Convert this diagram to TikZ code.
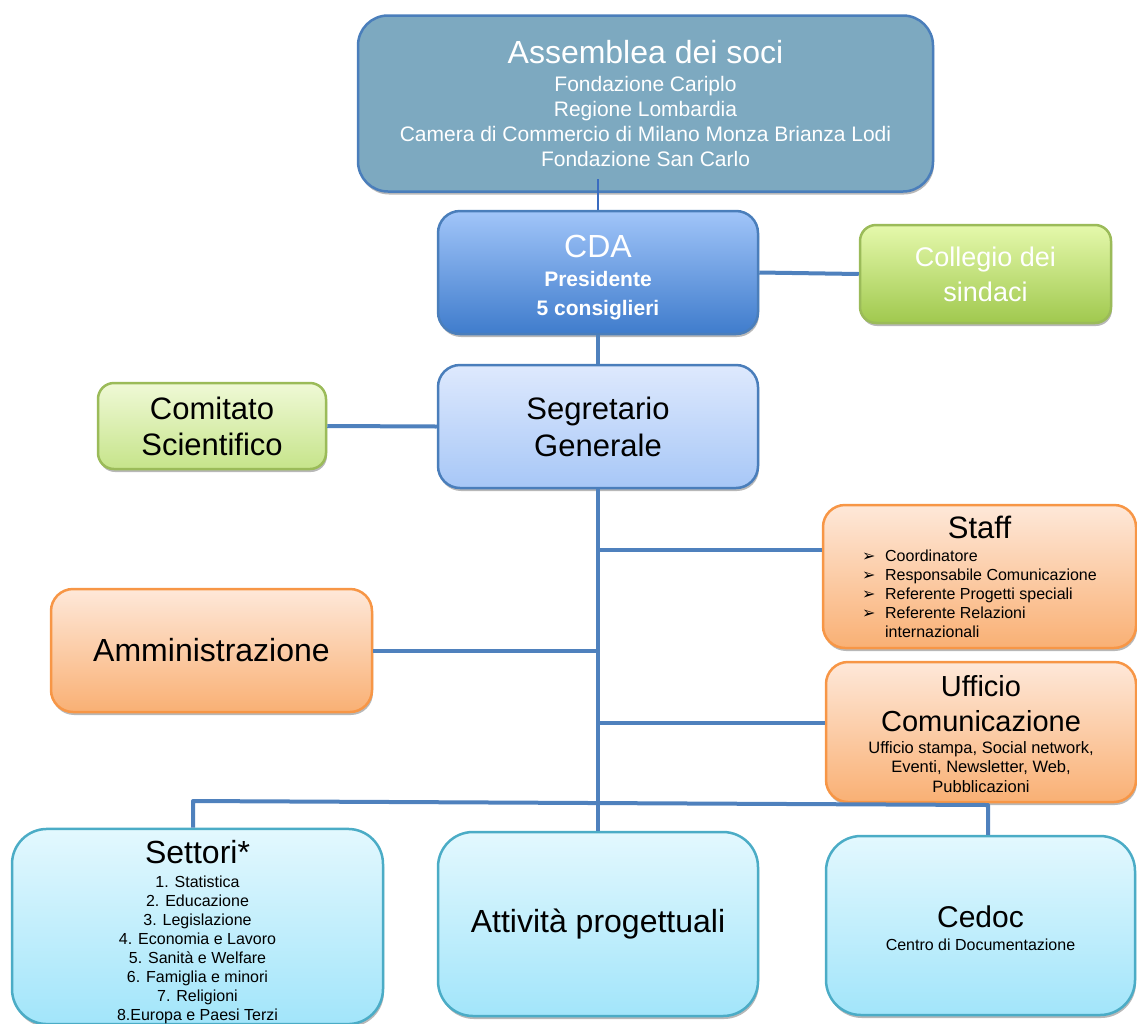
\documentclass[tikz,border=0pt]{standalone}
\usepackage{fontspec}
\setmainfont{Liberation Sans}
\newfontfamily\symfont{DejaVu Sans}
\usetikzlibrary{shadows}
\setlength{\lineskiplimit}{-1000pt}
\newcommand{\fsz}[2]{\fontsize{#1}{#2}\selectfont}
\definecolor{lineblue}{HTML}{4F81BD}
\definecolor{darkline}{HTML}{3A6CC0}
\definecolor{assemfill}{HTML}{7DA9C0}
\definecolor{bluedraw}{HTML}{4A7EBB}
\definecolor{cdatop}{HTML}{A1C5F9}
\definecolor{cdabot}{HTML}{3F7CCC}
\definecolor{segtop}{HTML}{DEE9FD}
\definecolor{segbot}{HTML}{A7C7F7}
\definecolor{grtop}{HTML}{E5F9AC}
\definecolor{grbot}{HTML}{A0C84E}
\definecolor{lgtop}{HTML}{EFF9D6}
\definecolor{lgbot}{HTML}{C6E48A}
\definecolor{grdraw}{HTML}{9BBB59}
\definecolor{ortop}{HTML}{FEE8D9}
\definecolor{orbot}{HTML}{F9B074}
\definecolor{ordraw}{HTML}{F79646}
\definecolor{cytop}{HTML}{E3F8FE}
\definecolor{cybot}{HTML}{A2E5FA}
\definecolor{cydraw}{HTML}{4BACC6}
\tikzset{
  box/.style={rounded corners=#1, line width=2.5pt, align=center, inner sep=0pt,
    drop shadow={shadow xshift=1pt, shadow yshift=-3pt, opacity=0.28, fill=black}},
  box/.default=20pt,
  assembox/.style={box=30pt, fill=assemfill, draw=bluedraw, text=white},
  cdabox/.style={box=22pt, top color=cdatop, bottom color=cdabot, draw=bluedraw, text=white},
  segbox/.style={box=22pt, top color=segtop, bottom color=segbot, draw=bluedraw, text=black},
  greenbox/.style={box=16pt, top color=grtop, bottom color=grbot, draw=grdraw, text=white},
  lgreenbox/.style={box=16pt, top color=lgtop, bottom color=lgbot, draw=grdraw, text=black},
  orangebox/.style={box=22pt, top color=ortop, bottom color=orbot, draw=ordraw, text=black},
  cyanbox/.style={box=35pt, top color=cytop, bottom color=cybot, draw=cydraw, text=black},
  link/.style={draw=lineblue, line width=4pt},
  thinlink/.style={draw=darkline, line width=2.5pt},
}
\newcommand{\bul}{\makebox[13pt][l]{\symfont\fsz{16}{19}➢}}
\newcommand{\bitem}[1]{\hbox{\bul\hspace{10pt}#1}}
\begin{document}
\begin{tikzpicture}[x=1pt,y=-1pt]
\useasboundingbox (0,0) rectangle (1137,1023);

\node[assembox, minimum width=575pt, minimum height=176pt, font=\fsz{21}{25}] (assem) at (645.5,103.5)
  {{\fsz{32}{36}Assemblea dei soci}\\[3pt]
   Fondazione Cariplo\\
   Regione Lombardia\\
   Camera di Commercio di Milano Monza Brianza Lodi\\
   Fondazione San Carlo};

\node[cdabox, minimum width=320pt, minimum height=123pt, font=\fsz{21}{29}] (cda) at (598,272.5)
  {{\fsz{32}{36}\rule{0pt}{32pt}CDA}\\
   {\bfseries Presidente}\\
   {\bfseries 5 consiglieri}};

\node[greenbox, minimum width=251pt, minimum height=98pt, font=\fsz{27}{35}] (coll) at (985.5,274)
  {Collegio dei\\sindaci};

\node[segbox, minimum width=320pt, minimum height=123pt, font=\fsz{31}{37}] (seg) at (598,426.5)
  {Segretario\\Generale};

\node[lgreenbox, minimum width=228pt, minimum height=86pt, font=\fsz{31}{36}] (com) at (212,426)
  {Comitato\\Scientifico};

\node[orangebox, minimum width=313pt, minimum height=143pt, font=\fsz{16}{19}] (staff) at (979.5,576.5)
  {{\fsz{31}{36}Staff}\\[4pt]
   \vtop{\baselineskip=19pt
   \bitem{Coordinatore}
   \bitem{Responsabile Comunicazione}
   \bitem{Referente Progetti speciali}
   \bitem{Referente Relazioni}
   \hbox{\hspace{23pt}internazionali}}};

\node[orangebox, minimum width=321pt, minimum height=123pt, font=\fsz{32}{36}] (amm) at (211.5,650.5)
  {Amministrazione};

\node[orangebox, minimum width=310pt, minimum height=140pt, font=\fsz{16.5}{19.5}] (uff) at (981,732)
  {{\fsz{29}{35}\rule{0pt}{25pt}Ufficio}\\[15.5pt]
   {\fsz{29}{35}Comunicazione}\\[2.5pt]
   Ufficio stampa, Social network,\\
   Eventi, Newsletter, Web,\\
   Pubblicazioni};

\node[cyanbox, minimum width=371pt, minimum height=191pt, font=\fsz{16}{19.1}] (set) at (197.5,926.5)
  {{\fsz{32}{36}\rule{0pt}{35pt}Settori*}\\[4pt]
   1. Statistica\\
   2. Educazione\\
   3. Legislazione\\
   4. Economia e Lavoro\\
   5. Sanità e Welfare\\
   6. Famiglia e minori\\
   7. Religioni\\
   8.Europa e Paesi Terzi};

\node[cyanbox, minimum width=320pt, minimum height=184pt, font=\fsz{32}{36}] (att) at (598,924)
  {Attività progettuali};

\node[cyanbox, minimum width=309pt, minimum height=179pt, font=\fsz{16}{20}] (ced) at (980.5,925.5)
  {{\fsz{30}{36}\rule{0pt}{28pt}Cedoc}\\[3pt]
   Centro di Documentazione};

% connectors
\draw[thinlink] (cda.north) -- ++(0,-31);
\draw[link] (cda.east) -- (coll.west);
\draw[link] (cda.south) -- (seg.north);
\draw[link] (com.east) -- (seg.west);
\draw[link] (seg.south) -- (att.north);
\coordinate (jstaff) at (598,550);
\draw[link] (jstaff) -- (jstaff -| staff.west);
\draw[link] (amm.east) -- (amm.east -| seg.south);
\coordinate (juff) at (598,723);
\draw[link] (juff) -- (juff -| uff.west);
\coordinate (barL) at (193,801);
\coordinate (barR) at (988,805);
\draw[link, line join=round] (barL |- set.north) -- (barL) -- (barR) -- (barR |- ced.north);
\end{tikzpicture}
\end{document}
